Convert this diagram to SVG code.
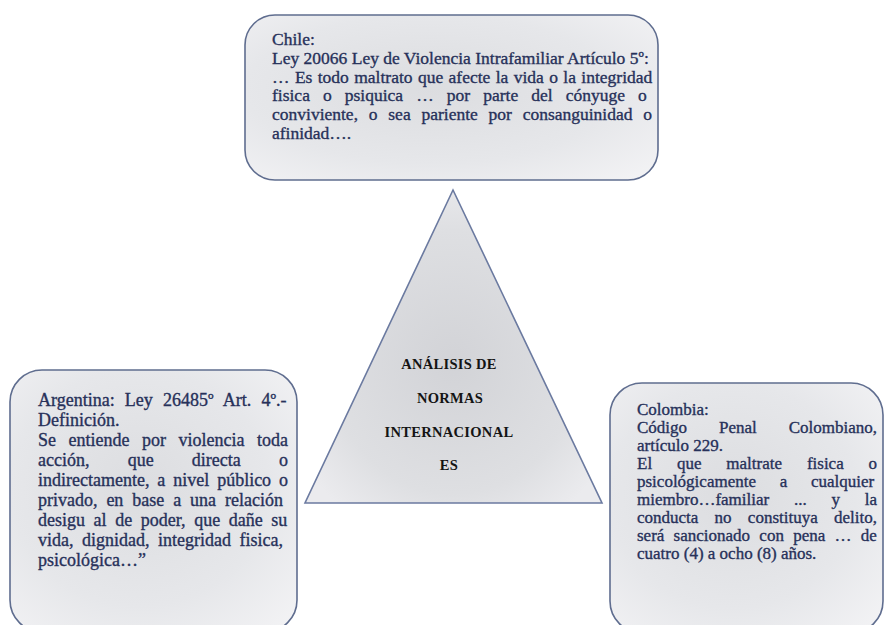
<svg xmlns="http://www.w3.org/2000/svg" width="885" height="625" viewBox="0 0 885 625">
  <defs>
    <radialGradient id="boxFill" cx="0.45" cy="0.45" r="0.75">
      <stop offset="0" stop-color="#dcdde0"/>
      <stop offset="0.6" stop-color="#e6e7ea"/>
      <stop offset="1" stop-color="#f3f3f5"/>
    </radialGradient>
    <radialGradient id="triFill" cx="0.5" cy="0.55" r="0.6">
      <stop offset="0" stop-color="#d2d3d7"/>
      <stop offset="0.7" stop-color="#dedfe2"/>
      <stop offset="1" stop-color="#ebebee"/>
    </radialGradient>
    <style>
      .box { fill: url(#boxFill); stroke: #5f6d8f; stroke-width: 1.6; }
      .tri { fill: url(#triFill); stroke: #6b7aa0; stroke-width: 1.6; }
      .t { font-family: "Liberation Serif", "Times New Roman", serif; fill: #27315a; stroke: #27315a; stroke-width: 0.35; }
      .top { font-size: 17.5px; }
      .lft { font-size: 18px; }
      .rgt { font-size: 17px; }
      .c { font-family: "Liberation Serif", "Times New Roman", serif; font-weight: bold; font-size: 14.5px; fill: #141414; text-anchor: middle; letter-spacing: 0.3px; }
    </style>
  </defs>
  <rect width="885" height="625" fill="#ffffff"/>

  <g id="connectors"></g>

  <g id="node-chile">
    <rect class="box" x="245" y="15" width="413" height="165" rx="30" ry="30"/>
    <text class="t top" x="272" y="45">Chile:</text>
    <text class="t top" x="272" y="63.75">Ley 20066 Ley de Violencia Intrafamiliar Artículo 5º:</text>
    <text class="t top" x="272" y="82.5" word-spacing="1">… Es todo maltrato que afecte la vida o la integridad</text>
    <text class="t top" x="272" y="101.25" word-spacing="8.7">fisica o psiquica … por parte del cónyuge o</text>
    <text class="t top" x="272" y="120" word-spacing="6.4">conviviente, o sea pariente por consanguinidad o</text>
    <text class="t top" x="272" y="138.75">afinidad….</text>
  </g>

  <g id="node-center">
    <polygon class="tri" points="453,190 602,503 305,503"/>
    <text class="c" x="449" y="369">ANÁLISIS DE</text>
    <text class="c" x="450" y="403">NORMAS</text>
    <text class="c" x="449" y="437">INTERNACIONAL</text>
    <text class="c" x="449" y="470">ES</text>
  </g>

  <g id="node-argentina">
    <rect class="box" x="10" y="370" width="287" height="262" rx="32" ry="32"/>
    <text class="t lft" x="38" y="405.5" word-spacing="5.7">Argentina: Ley 26485º Art. 4º.-</text>
    <text class="t lft" x="38" y="425.5">Definición.</text>
    <text class="t lft" x="38" y="445.5" word-spacing="8">Se entiende por violencia toda</text>
    <text class="t lft" x="38" y="465.5" word-spacing="33.7">acción, que directa o</text>
    <text class="t lft" x="38" y="485.5" word-spacing="3.4">indirectamente, a nivel público o</text>
    <text class="t lft" x="38" y="505.5" word-spacing="4.4">privado, en base a una relación</text>
    <text class="t lft" x="38" y="525.5" word-spacing="4.1">desigu al de poder, que dañe su</text>
    <text class="t lft" x="38" y="545.5" word-spacing="4">vida, dignidad, integridad fisica,</text>
    <text class="t lft" x="38" y="565.5">psicológica…”</text>
  </g>

  <g id="node-colombia">
    <rect class="box" x="610" y="383" width="273" height="250" rx="32" ry="32"/>
    <text class="t rgt" x="637" y="415">Colombia:</text>
    <text class="t rgt" x="637" y="433" word-spacing="27.7">Código Penal Colombiano,</text>
    <text class="t rgt" x="637" y="451">artículo 229.</text>
    <text class="t rgt" x="637" y="469" word-spacing="20.6">El que maltrate fisica o</text>
    <text class="t rgt" x="637" y="487" word-spacing="19.5">psicológicamente a cualquier</text>
    <text class="t rgt" x="637" y="505" word-spacing="20.5">miembro…familiar ... y la</text>
    <text class="t rgt" x="637" y="523" word-spacing="12">conducta no constituya delito,</text>
    <text class="t rgt" x="637" y="541" word-spacing="5">será sancionado con pena … de</text>
    <text class="t rgt" x="637" y="559">cuatro (4) a ocho (8) años.</text>
  </g>
</svg>
